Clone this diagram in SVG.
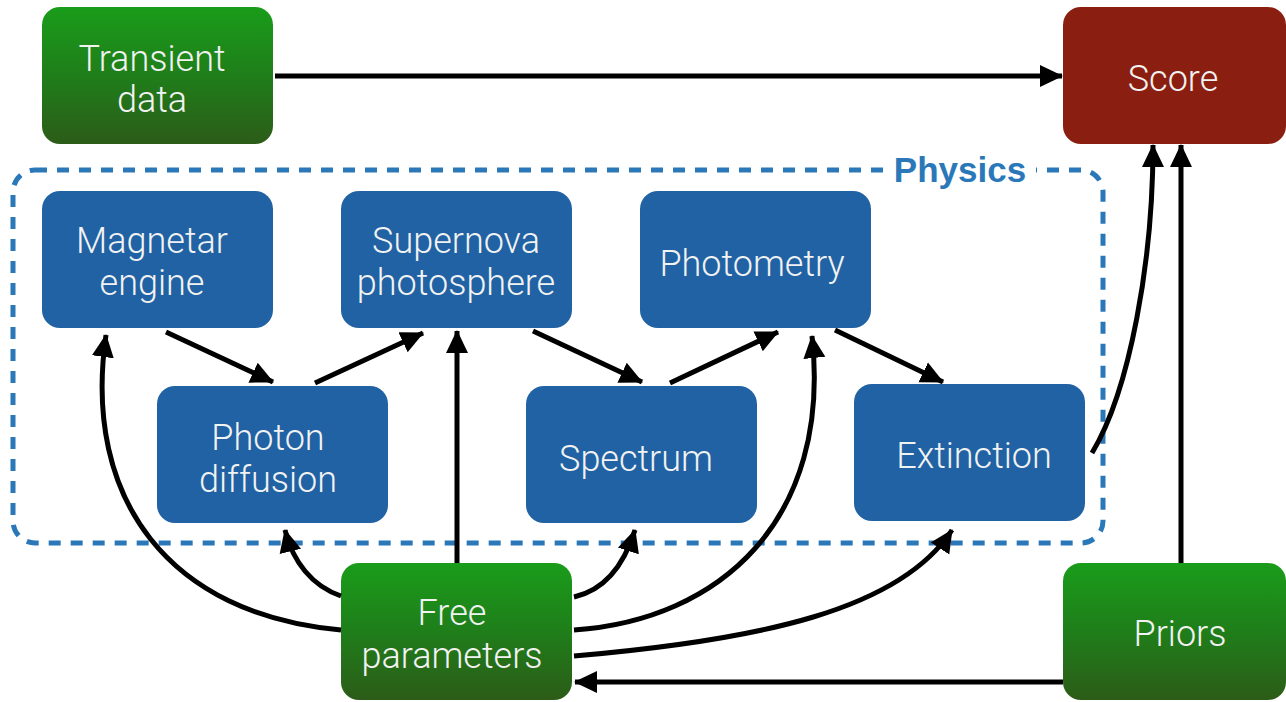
<svg xmlns="http://www.w3.org/2000/svg" width="1286" height="702" viewBox="0 0 1286 702">
<defs>
<linearGradient id="green" x1="0" y1="0" x2="0" y2="1">
<stop offset="0" stop-color="#1a9c1a"/>
<stop offset="0.5" stop-color="#1f7e1a"/>
<stop offset="1" stop-color="#2c5c18"/>
</linearGradient>
<marker id="ah" markerUnits="userSpaceOnUse" markerWidth="24" markerHeight="24" viewBox="0 0 24 24" refX="22" refY="12" orient="auto">
<path d="M0,1 L23,12 L0,23 Z" fill="#000"/>
</marker>
<style>
.green{fill:url(#green)}
.blue{fill:#2062a3}
.red{fill:#8a1f11}
.lbl{font-family:Roboto,"Liberation Sans",sans-serif;font-weight:300;font-size:36px;fill:#f2f2f2;text-anchor:middle}
.conn path,.conn line{fill:none;stroke:#000;stroke-width:5;marker-end:url(#ah)}
</style>
</defs>
<rect width="1286" height="702" fill="#fff"/>

<g id="physics">
<rect x="13" y="170" width="1090" height="373" rx="22" fill="none" stroke="#2b78b9" stroke-width="5" stroke-dasharray="12 10"/>
<rect x="890" y="158" width="146" height="24" fill="#fff"/>
<text x="960" y="182" font-family="'Liberation Sans',Arial,sans-serif" font-weight="bold" font-size="35" fill="#2b78b9" text-anchor="middle">Physics</text>
</g>

<g id="transient"><rect class="green" x="42" y="7" width="231" height="137" rx="18"/>
<text class="lbl" x="152" y="71">Transient</text><text class="lbl" x="152" y="112">data</text></g>
<g id="score"><rect class="red" x="1063" y="7" width="223" height="137" rx="18"/>
<text class="lbl" x="1173" y="91">Score</text></g>
<g id="magnetar"><rect class="blue" x="42" y="191" width="231" height="137" rx="18"/>
<text class="lbl" x="152" y="253">Magnetar</text><text class="lbl" x="152" y="295">engine</text></g>
<g id="supernova"><rect class="blue" x="341" y="191" width="231" height="137" rx="18"/>
<text class="lbl" x="456" y="253">Supernova</text><text class="lbl" x="456" y="295">photosphere</text></g>
<g id="photometry"><rect class="blue" x="640" y="191" width="231" height="137" rx="18"/>
<text class="lbl" x="752" y="276">Photometry</text></g>
<g id="photon"><rect class="blue" x="157" y="386" width="231" height="137" rx="18"/>
<text class="lbl" x="268" y="450">Photon</text><text class="lbl" x="268" y="492">diffusion</text></g>
<g id="spectrum"><rect class="blue" x="526" y="386" width="231" height="137" rx="18"/>
<text class="lbl" x="636" y="471">Spectrum</text></g>
<g id="extinction"><rect class="blue" x="854" y="384" width="231" height="137" rx="18"/>
<text class="lbl" x="974" y="468">Extinction</text></g>
<g id="free"><rect class="green" x="341" y="563" width="231" height="137" rx="18"/>
<text class="lbl" x="452" y="625">Free</text><text class="lbl" x="452" y="668">parameters</text></g>
<g id="priors"><rect class="green" x="1063" y="563" width="223" height="137" rx="18"/>
<text class="lbl" x="1180" y="646">Priors</text></g>

<g id="connectors" class="conn">
<line x1="275" y1="76" x2="1062" y2="76"/>
<line x1="166" y1="332" x2="273" y2="382"/>
<line x1="315" y1="383" x2="423" y2="333"/>
<line x1="457" y1="563" x2="457" y2="331"/>
<line x1="533" y1="331" x2="642" y2="382"/>
<line x1="670" y1="383" x2="778" y2="332"/>
<line x1="835" y1="330" x2="943" y2="382"/>
<path d="M341,630 C170,615 82,500 106,335"/>
<path d="M341,596 C312,586 293,562 285,530"/>
<path d="M574,597 C605,590 624,565 635,530"/>
<path d="M574,630 C720,620 832,520 812,336"/>
<path d="M574,656 C760,640 900,610 952,530"/>
<line x1="1063" y1="682" x2="575" y2="682"/>
<line x1="1181" y1="563" x2="1181" y2="145"/>
<path d="M1092,453 C1130,390 1153,260 1153,145"/>
</g>
</svg>
